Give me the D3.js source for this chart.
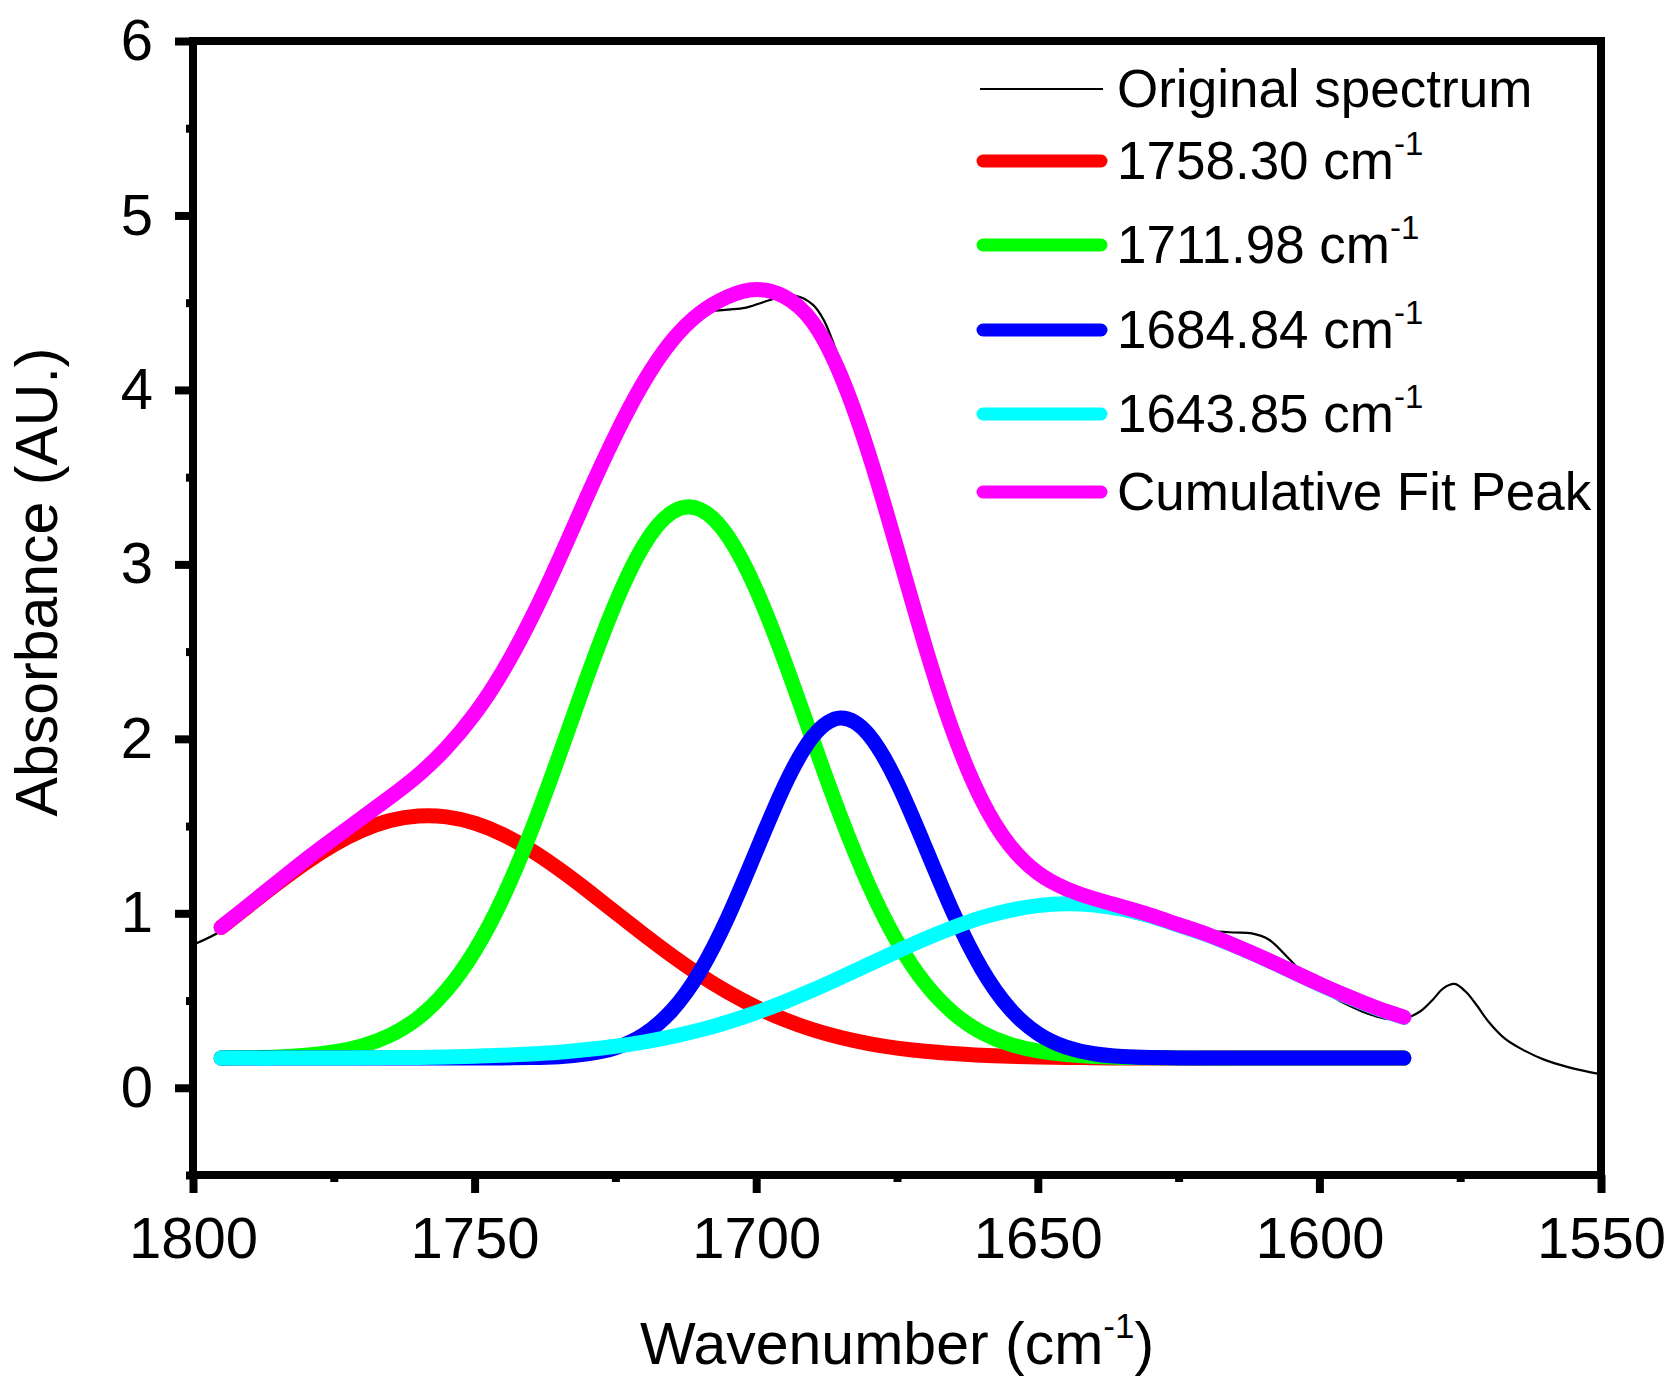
<!DOCTYPE html>
<html>
<head>
<meta charset="utf-8">
<script src="https://cdn.jsdelivr.net/npm/d3@7"></script>
<style>
  html, body { margin: 0; padding: 0; background: #fff; }
  svg { display: block; }
  text { font-family: "Liberation Sans", Arial, sans-serif; fill: #000; }
</style>
</head>
<body>
<svg id="chart" width="1677" height="1386"></svg>
<script>
// ---------- data ----------
const yTicks = [0, 1, 2, 3, 4, 5, 6];
const xTicks = [1800, 1750, 1700, 1650, 1600, 1550];

const fitX = [1795, 1790, 1785, 1780, 1775, 1770, 1765, 1760, 1755, 1750,
              1745, 1740, 1735, 1730, 1725, 1720, 1715, 1710, 1705, 1700,
              1695, 1690, 1685, 1680, 1675, 1670, 1665, 1660, 1655, 1650,
              1645, 1640, 1635, 1630, 1625, 1620, 1615, 1610, 1605, 1600,
              1595, 1590, 1585];

const peak1758 = [0.919, 1.046, 1.172, 1.290, 1.393, 1.475, 1.532, 1.558, 1.553, 1.517,
                  1.452, 1.362, 1.253, 1.132, 1.005, 0.879, 0.758, 0.646, 0.547, 0.462,
                  0.391, 0.333, 0.288, 0.253, 0.227, 0.209, 0.196, 0.186, 0.180, 0.176,
                  0.174, 0.172, 0.171, 0.171, 0.170, 0.170, 0.170, 0.170, 0.170, 0.170,
                  0.170, 0.170, 0.170];

const peak1712 = [0.171, 0.173, 0.177, 0.187, 0.205, 0.240, 0.301, 0.401, 0.558, 0.784,
                  1.088, 1.467, 1.903, 2.357, 2.777, 3.108, 3.297, 3.316, 3.160, 2.855,
                  2.449, 1.997, 1.554, 1.161, 0.840, 0.598, 0.429, 0.318, 0.250, 0.211,
                  0.190, 0.179, 0.174, 0.172, 0.171, 0.170, 0.170, 0.170, 0.170, 0.170,
                  0.170, 0.170, 0.170];

const peak1685 = [0.170, 0.170, 0.170, 0.170, 0.170, 0.170, 0.170, 0.170, 0.170, 0.170,
                  0.171, 0.173, 0.178, 0.194, 0.229, 0.304, 0.442, 0.665, 0.979, 1.356,
                  1.730, 2.011, 2.120, 2.023, 1.751, 1.381, 1.002, 0.683, 0.454, 0.311,
                  0.233, 0.195, 0.179, 0.173, 0.171, 0.170, 0.170, 0.170, 0.170, 0.170,
                  0.170, 0.170, 0.170];

const peak1644 = [0.170, 0.170, 0.170, 0.171, 0.171, 0.172, 0.173, 0.174, 0.177, 0.181,
                  0.186, 0.194, 0.204, 0.219, 0.238, 0.262, 0.293, 0.331, 0.377, 0.431,
                  0.492, 0.559, 0.632, 0.707, 0.782, 0.854, 0.919, 0.975, 1.017, 1.044,
                  1.055, 1.048, 1.024, 0.984, 0.932, 0.878, 0.813, 0.743, 0.668, 0.593,
                  0.523, 0.458, 0.403];

const cumulative = [0.920, 1.049, 1.179, 1.308, 1.429, 1.547, 1.666, 1.793, 1.948, 2.142,
                    2.387, 2.686, 3.028, 3.392, 3.739, 4.043, 4.280, 4.440, 4.535, 4.575,
                    4.535, 4.390, 4.084, 3.634, 3.090, 2.532, 2.036, 1.652, 1.391, 1.232,
                    1.142, 1.084, 1.038, 0.990, 0.935, 0.880, 0.815, 0.745, 0.670, 0.595,
                    0.525, 0.460, 0.405];

const origX = [1800, 1795, 1790, 1785, 1780, 1775, 1770, 1765, 1760, 1755,
               1750, 1745, 1740, 1735, 1730, 1725, 1720, 1717, 1714, 1711,
               1708, 1705, 1702, 1699, 1696, 1693, 1690, 1688, 1685, 1680,
               1675, 1670, 1665, 1660, 1655, 1650, 1645, 1640, 1635, 1630,
               1626, 1622, 1618, 1615, 1612, 1609, 1606, 1603, 1600, 1597,
               1594, 1591, 1588, 1585, 1582, 1580, 1578, 1576, 1574, 1572,
               1570, 1567, 1564, 1560, 1556, 1552, 1550];
const origY = [0.82, 0.90, 1.04, 1.17, 1.30, 1.42, 1.54, 1.66, 1.79, 1.95,
               2.14, 2.39, 2.69, 3.03, 3.40, 3.76, 4.08, 4.23, 4.35, 4.42,
               4.45, 4.46, 4.47, 4.50, 4.53, 4.54, 4.49, 4.40, 4.15, 3.66,
               3.10, 2.53, 2.03, 1.65, 1.38, 1.21, 1.10, 1.03, 0.99, 0.95,
               0.93, 0.91, 0.895, 0.89, 0.885, 0.85, 0.76, 0.66, 0.58, 0.51,
               0.46, 0.42, 0.395, 0.395, 0.44, 0.50, 0.57, 0.595, 0.55, 0.47,
               0.38, 0.28, 0.22, 0.16, 0.12, 0.09, 0.078];

const seriesNames = ["Original spectrum", "1758.30 cm", "1711.98 cm", "1684.84 cm", "1643.85 cm", "Cumulative Fit Peak"];
const seriesColors = ["#000000", "#ff0000", "#00ff00", "#0000ff", "#00ffff", "#ff00ff"];

// ---------- layout ----------
const svg = d3.select("#chart");
const L = 193, R = 1601, T = 41, B = 1175;
const x = d3.scaleLinear().domain([1800, 1550]).range([L, R]);
const y = d3.scaleLinear().domain([-0.5, 6]).range([B, T]);

const line = (xs, ys, curve) => d3.line()
  .x((d, i) => x(xs[i]))
  .y(d => y(d))
  .curve(curve)(ys);

svg.append("clipPath").attr("id", "clip")
  .append("rect").attr("x", L).attr("y", T).attr("width", R - L).attr("height", B - T);

const plot = svg.append("g").attr("clip-path", "url(#clip)");

// original spectrum (bottom)
plot.append("path").attr("d", line(origX, origY, d3.curveCatmullRom.alpha(0.5)))
  .attr("fill", "none").attr("stroke", "#000").attr("stroke-width", 2.2);

const fits = [peak1758, peak1712, peak1685, peak1644, cumulative];
fits.forEach((ys, k) => {
  plot.append("path").attr("d", line(fitX, ys, d3.curveNatural))
    .attr("fill", "none").attr("stroke", seriesColors[k + 1])
    .attr("stroke-width", 15).attr("stroke-linecap", "round").attr("stroke-linejoin", "round");
});

// ---------- axes ----------
const fontTick = 58;
const yAxis = d3.axisLeft(y).tickValues(yTicks).tickSize(18).tickSizeOuter(0).tickPadding(22)
  .tickFormat(d3.format("d"));
const gy = svg.append("g").attr("transform", `translate(${L},0)`).call(yAxis);
gy.selectAll("text").style("font-size", fontTick + "px").style("font-family", "Liberation Sans, Arial, sans-serif");

const yMinor = d3.range(-0.5, 6, 1);
svg.append("g").attr("transform", `translate(${L},0)`)
  .call(d3.axisLeft(y).tickValues(yMinor).tickSize(7).tickSizeOuter(0).tickFormat(""));

const xAxis = d3.axisBottom(x).tickValues(xTicks).tickSize(18).tickSizeOuter(0).tickPadding(24)
  .tickFormat(d3.format("d"));
const gx = svg.append("g").attr("transform", `translate(0,${B})`).call(xAxis);
gx.selectAll("text").style("font-size", fontTick + "px").style("font-family", "Liberation Sans, Arial, sans-serif");

const xMinor = [1775, 1725, 1675, 1625, 1575];
svg.append("g").attr("transform", `translate(0,${B})`)
  .call(d3.axisBottom(x).tickValues(xMinor).tickSize(7).tickSizeOuter(0).tickFormat(""));

svg.selectAll(".tick line").attr("stroke", "#000").attr("stroke-width", 8);
svg.selectAll(".domain").attr("stroke", "none");

// frame
svg.append("rect").attr("x", L).attr("y", T).attr("width", R - L).attr("height", B - T)
  .attr("fill", "none").attr("stroke", "#000").attr("stroke-width", 8);

// ---------- axis titles ----------
const xt = svg.append("text").attr("x", (L + R) / 2).attr("y", 1364)
  .attr("text-anchor", "middle").style("font-size", "59px");
xt.append("tspan").text("Wavenumber (cm");
xt.append("tspan").attr("dy", -26).style("font-size", "35px").text("-1");
xt.append("tspan").attr("dy", 26).text(")");

svg.append("text").attr("transform", "translate(57,582) rotate(-90)")
  .attr("text-anchor", "middle").style("font-size", "59px").text("Absorbance (AU.)");

// ---------- legend ----------
const legY = [89, 161, 245, 330, 414, 492];
const lg = svg.append("g");
seriesNames.forEach((name, i) => {
  lg.append("line")
    .attr("x1", i === 0 ? 980 : 983).attr("x2", i === 0 ? 1103 : 1101)
    .attr("y1", legY[i]).attr("y2", legY[i])
    .attr("stroke", seriesColors[i])
    .attr("stroke-width", i === 0 ? 2 : 13)
    .attr("stroke-linecap", i === 0 ? "butt" : "round");
  const t = lg.append("text").attr("x", 1117).attr("y", legY[i] + 18).style("font-size", "53px");
  t.append("tspan").text(name);
  if (i >= 1 && i <= 4) {
    t.append("tspan").attr("dy", -24).style("font-size", "33px").text("-1");
  }
});
</script>
</body>
</html>
